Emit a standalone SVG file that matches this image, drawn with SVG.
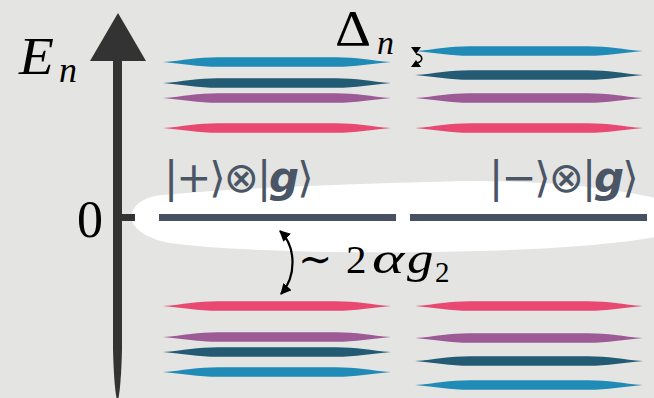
<svg xmlns="http://www.w3.org/2000/svg" width="654" height="398" viewBox="0 0 654 398">
<style>
.math{font-family:"Liberation Serif","DejaVu Serif",serif;fill:#000}
.it{font-style:italic}
.ket{font-family:"DejaVu Sans","Noto Sans",sans-serif;fill:#4a5565;font-size:42px;letter-spacing:-2px}
.gk{font-weight:bold;font-style:italic}
.lvl0{fill:#475161}
.conn{fill:none;stroke:#000;stroke-width:2.2}
</style>
<defs>
<path id="band" d="M0,0 C20,-1.5 35,-4.8 55,-4.8 L173,-4.8 C193,-4.8 208,-1.5 228,0 C208,1.5 193,4.8 173,4.8 L55,4.8 C35,4.8 20,1.5 0,0 Z"/>
<marker id="ah" viewBox="0 0 10 10" refX="9" refY="5" markerWidth="5" markerHeight="5" orient="auto-start-reverse" markerUnits="strokeWidth">
<path d="M0,0 L10,5 L0,10 Z" fill="#000"/>
</marker>
</defs>
<rect width="654" height="398" fill="#e4e4e2"/>
<g id="zero-region">
<path d="M131,217 C133,205 142,199 155,196 C200,190 330,184 470,181 C560,181 620,190 660,199 L660,236 C620,244 540,251 420,252 C320,253 220,250 170,243 C148,239 132,229 131,217 Z" fill="#fff"/>
</g>
<g id="axis">
<path d="M113,61 L122,61 L122,350 Q121,385 118.5,398 L116.5,398 Q114,385 113,350 Z" fill="#333"/>
<path d="M118,13 L146,61 L90,61 Z" fill="#333"/>
<rect x="120" y="214" width="15" height="7" fill="#333"/>
<text class="math it" transform="translate(19,74) scale(1.1,1)" font-size="52">E</text>
<text class="math it" x="59" y="82" font-size="36">n</text>
<text class="math" x="77" y="237" font-size="52">0</text>
</g>
<g id="upper-left">
<use href="#band" x="163" y="62" fill="#1f8bb6"/>
<use href="#band" x="163" y="83" fill="#225b73"/>
<use href="#band" x="163" y="98" fill="#9c5a97"/>
<use href="#band" x="163" y="128" fill="#e94870"/>
</g>
<g id="upper-right">
<use href="#band" x="415" y="51" fill="#1f8bb6"/>
<use href="#band" x="415" y="75" fill="#225b73"/>
<use href="#band" x="415" y="98" fill="#9c5a97"/>
<use href="#band" x="415" y="128" fill="#e94870"/>
</g>
<g id="lower-left">
<use href="#band" x="163" y="306" fill="#e94870"/>
<use href="#band" x="163" y="337" fill="#9c5a97"/>
<use href="#band" x="163" y="352" fill="#225b73"/>
<use href="#band" x="163" y="372" fill="#1f8bb6"/>
</g>
<g id="lower-right">
<use href="#band" x="415" y="306" fill="#e94870"/>
<use href="#band" x="415" y="338" fill="#9c5a97"/>
<use href="#band" x="415" y="361" fill="#225b73"/>
<use href="#band" x="415" y="385" fill="#1f8bb6"/>
</g>
<g id="plus-g">
<rect class="lvl0" x="159" y="214" width="237" height="7"/>
<text class="ket" x="164" y="192">|+⟩⊗|<tspan class="gk">g</tspan>⟩</text>
</g>
<g id="minus-g">
<rect class="lvl0" x="410" y="214" width="237" height="7"/>
<text class="ket" x="489" y="192">|−⟩⊗|<tspan class="gk">g</tspan>⟩</text>
</g>
<g id="labels">
<text class="math" transform="translate(335,45) scale(1.12,1)" font-size="50">Δ</text>
<text class="math it" x="377" y="54" font-size="34">n</text>
<text class="math" x="298" y="273" font-size="41">∼</text>
<text class="math" x="346" y="273" font-size="41">2</text>
<text class="math it" transform="translate(372,273) scale(1.4,1)" font-size="44">α</text>
<text class="math it" transform="translate(407,273) scale(1.2,1)" font-size="44">g</text>
<text class="math" x="435" y="282" font-size="29">2</text>
</g>
<g id="connectors">
<path class="conn" d="M280,231 C296,246 297,276 281,294" marker-start="url(#ah)" marker-end="url(#ah)"/>
<path d="M411,47 L421,47 L416,54 Z" fill="#000"/>
<path d="M411,67 L421,67 L416,60 Z" fill="#000"/>
<path d="M416,54 C423,55 424,61 417,63" fill="none" stroke="#000" stroke-width="1.5"/>
</g>
</svg>
